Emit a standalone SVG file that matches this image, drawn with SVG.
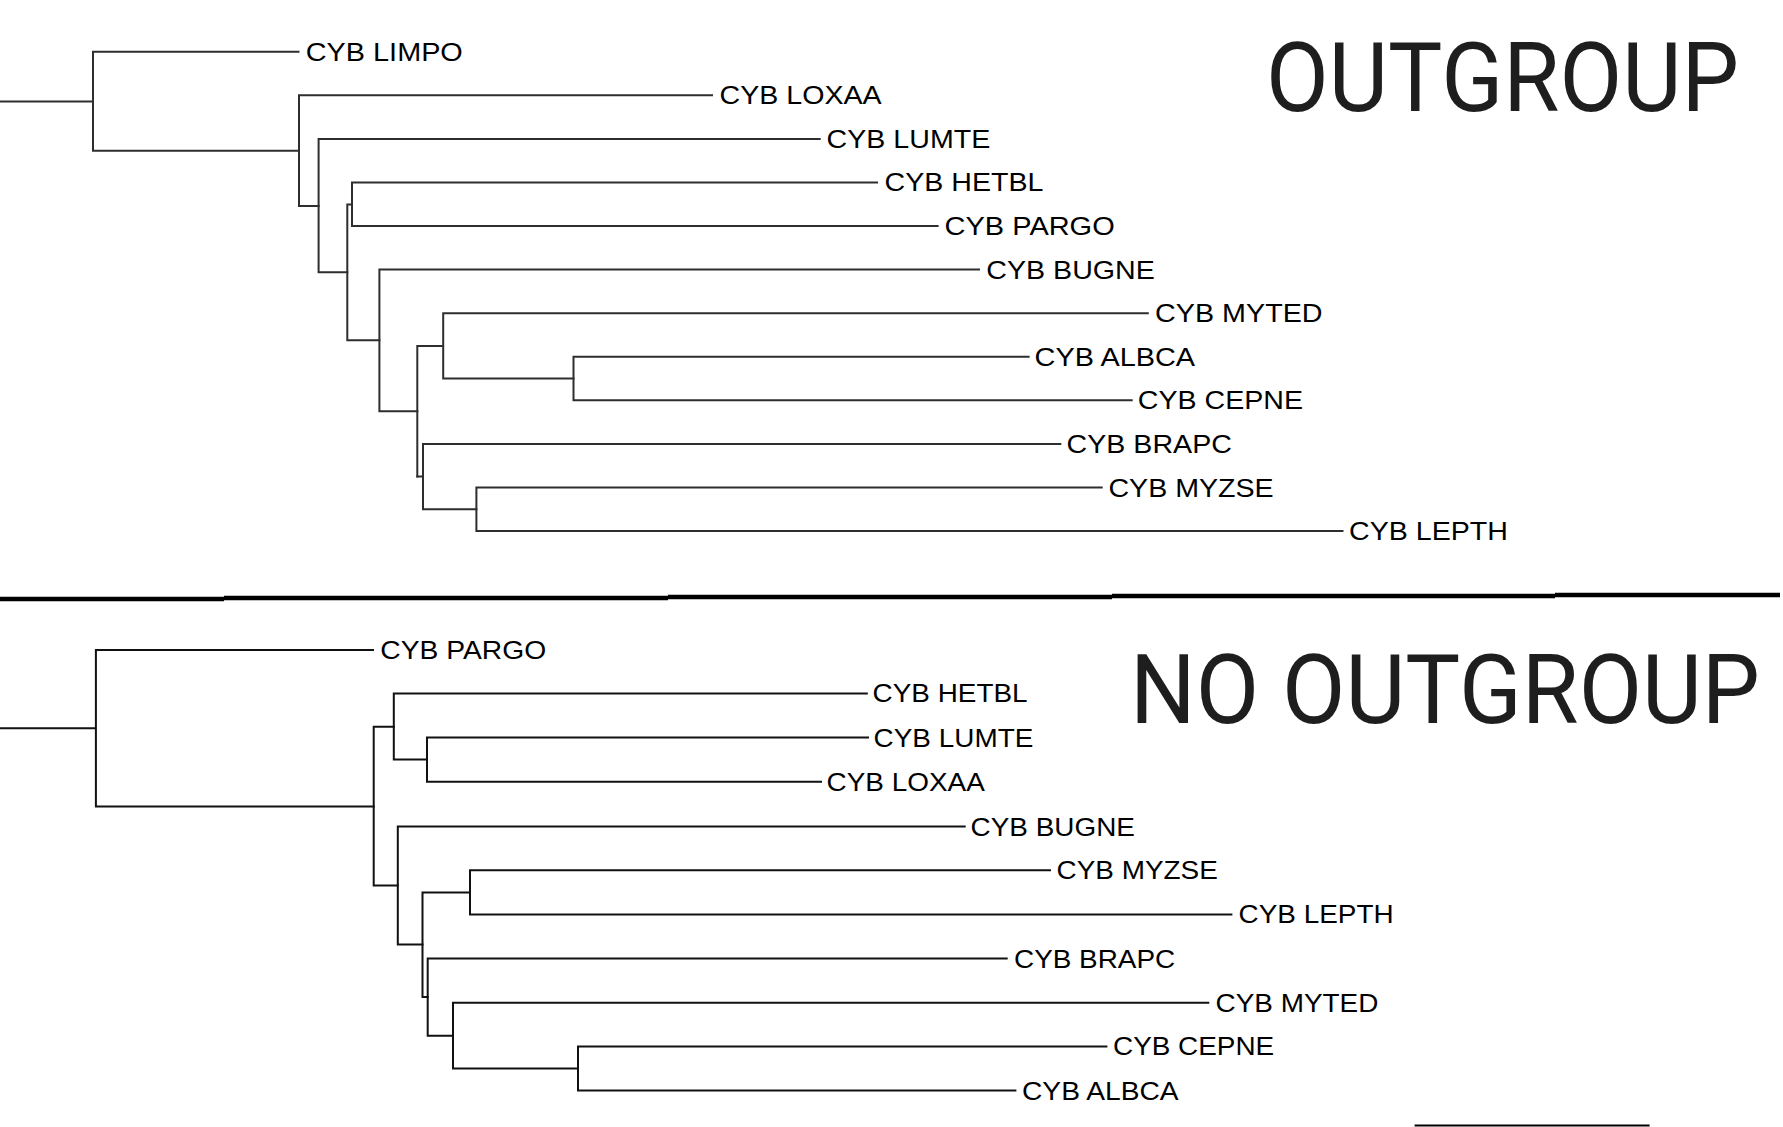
<svg xmlns="http://www.w3.org/2000/svg" width="1783" height="1127" viewBox="0 0 1783 1127">
<style>
.bg{fill:#fff}
.br{fill:none;stroke:#2e2e2e;stroke-width:2;stroke-linecap:square}
.br2{fill:none;stroke:#111;stroke-width:2;stroke-linecap:square}
.lab{font-family:"Liberation Sans",Arial,sans-serif;font-size:26px;fill:#000}
.title{font-family:Roboto,"Noto Sans",sans-serif;font-size:96px;fill:#1e1e1e}
.sep{fill:none;stroke:#000;stroke-width:4.5}
</style>
<rect class="bg" x="0" y="0" width="1783" height="1127"/>
<g id="connectors">
<g id="top-tree">
<path class="br" d="M0,101.4H93M93,51.7V150.8M93,51.7H298.5M93,150.8H299"/>
<path class="br" d="M299,95.3V205.9M299,95.3H712M299,205.9H318.6"/>
<path class="br" d="M318.6,138.9V272.3M318.6,138.9H819.7M318.6,272.3H347.3"/>
<path class="br" d="M347.3,204.4V340.3M347.3,204.4H352M352,182.4V226M352,182.4H877M352,226H937.6M347.3,340.3H379.4"/>
<path class="br" d="M379.4,269.6V411.2M379.4,269.6H979M379.4,411.2H417.3"/>
<path class="br" d="M417.3,345.9V476.6M417.3,345.9H443.2M443.2,313.2V378.6M443.2,313.2H1147.8M443.2,378.6H573.5"/>
<path class="br" d="M573.5,356.8V400.3M573.5,356.8H1028.6M573.5,400.3H1131.7"/>
<path class="br" d="M417.3,476.6H423M423,443.9V509.3M423,443.9H1060.3M423,509.3H476.4"/>
<path class="br" d="M476.4,487.5V531.1M476.4,487.5H1101.7M476.4,531.1H1342.5"/>
</g>
<g id="separator">
<path class="sep" d="M0,599H224M224,598H668M668,597H1112M1112,596H1555M1555,595H1780"/>
</g>
<g id="bottom-tree">
<path class="br2" d="M0,728.3H95.9M95.9,650V806.6M95.9,650H373M95.9,806.6H373.7"/>
<path class="br2" d="M373.7,726.8V885.5M373.7,726.8H393.8M373.7,885.5H397.8"/>
<path class="br2" d="M393.8,693.4V759.6M393.8,693.4H866.8M393.8,759.6H427"/>
<path class="br2" d="M427,737.6V781.7M427,737.6H868M427,781.7H821"/>
<path class="br2" d="M397.8,826.5V944.6M397.8,826.5H964.7M397.8,944.6H422.5"/>
<path class="br2" d="M422.5,892.4V997.1M422.5,892.4H470M422.5,997.1H427.7"/>
<path class="br2" d="M470,870.3V914.4M470,870.3H1050M470,914.4H1231.4"/>
<path class="br2" d="M427.7,958.5V1035.7M427.7,958.5H1006.7M427.7,1035.7H453"/>
<path class="br2" d="M453,1002.7V1068.5M453,1002.7H1208.3M453,1068.5H578"/>
<path class="br2" d="M578,1046.4V1090.5M578,1046.4H1106.4M578,1090.5H1015.4"/>
</g>
<path id="scale-bar" fill="none" stroke="#000" stroke-width="2" d="M1414.6,1125.5H1649.6"/>
</g>
<g id="title-top"><text class="title" x="1266" y="111" textLength="473" lengthAdjust="spacingAndGlyphs">OUTGROUP</text></g>
<g id="title-bottom"><text class="title" x="1130" y="722.7" textLength="630" lengthAdjust="spacingAndGlyphs">NO OUTGROUP</text></g>
<g id="t-LIMPO"><text class="lab" x="305.8" y="60.7" textLength="157" lengthAdjust="spacingAndGlyphs">CYB LIMPO</text></g>
<g id="t-LOXAA"><text class="lab" x="719.6" y="104.3" textLength="162.1" lengthAdjust="spacingAndGlyphs">CYB LOXAA</text></g>
<g id="t-LUMTE"><text class="lab" x="826.6" y="147.9" textLength="163.7" lengthAdjust="spacingAndGlyphs">CYB LUMTE</text></g>
<g id="t-HETBL"><text class="lab" x="884.6" y="191.4" textLength="158.9" lengthAdjust="spacingAndGlyphs">CYB HETBL</text></g>
<g id="t-PARGO"><text class="lab" x="944.6" y="235" textLength="170.1" lengthAdjust="spacingAndGlyphs">CYB PARGO</text></g>
<g id="t-BUGNE"><text class="lab" x="986.3" y="278.6" textLength="168.5" lengthAdjust="spacingAndGlyphs">CYB BUGNE</text></g>
<g id="t-MYTED"><text class="lab" x="1155.1" y="322" textLength="167.5" lengthAdjust="spacingAndGlyphs">CYB MYTED</text></g>
<g id="t-ALBCA"><text class="lab" x="1034.6" y="365.8" textLength="160.5" lengthAdjust="spacingAndGlyphs">CYB ALBCA</text></g>
<g id="t-CEPNE"><text class="lab" x="1137.8" y="409.3" textLength="165.3" lengthAdjust="spacingAndGlyphs">CYB CEPNE</text></g>
<g id="t-BRAPC"><text class="lab" x="1066.6" y="452.9" textLength="165.3" lengthAdjust="spacingAndGlyphs">CYB BRAPC</text></g>
<g id="t-MYZSE"><text class="lab" x="1108.4" y="496.5" textLength="165.3" lengthAdjust="spacingAndGlyphs">CYB MYZSE</text></g>
<g id="t-LEPTH"><text class="lab" x="1349.1" y="540.1" textLength="158.9" lengthAdjust="spacingAndGlyphs">CYB LEPTH</text></g>
<g id="b-PARGO"><text class="lab" x="380.3" y="659" textLength="165.9" lengthAdjust="spacingAndGlyphs">CYB PARGO</text></g>
<g id="b-HETBL"><text class="lab" x="872.6" y="702.4" textLength="155" lengthAdjust="spacingAndGlyphs">CYB HETBL</text></g>
<g id="b-LUMTE"><text class="lab" x="873.6" y="746.6" textLength="159.7" lengthAdjust="spacingAndGlyphs">CYB LUMTE</text></g>
<g id="b-LOXAA"><text class="lab" x="826.6" y="790.7" textLength="158.2" lengthAdjust="spacingAndGlyphs">CYB LOXAA</text></g>
<g id="b-BUGNE"><text class="lab" x="970.6" y="835.5" textLength="164.3" lengthAdjust="spacingAndGlyphs">CYB BUGNE</text></g>
<g id="b-MYZSE"><text class="lab" x="1056.6" y="879.3" textLength="161.2" lengthAdjust="spacingAndGlyphs">CYB MYZSE</text></g>
<g id="b-LEPTH"><text class="lab" x="1238.6" y="923.4" textLength="155" lengthAdjust="spacingAndGlyphs">CYB LEPTH</text></g>
<g id="b-BRAPC"><text class="lab" x="1014" y="967.5" textLength="161.2" lengthAdjust="spacingAndGlyphs">CYB BRAPC</text></g>
<g id="b-MYTED"><text class="lab" x="1215.6" y="1011.7" textLength="162.8" lengthAdjust="spacingAndGlyphs">CYB MYTED</text></g>
<g id="b-CEPNE"><text class="lab" x="1113" y="1055.4" textLength="161.2" lengthAdjust="spacingAndGlyphs">CYB CEPNE</text></g>
<g id="b-ALBCA"><text class="lab" x="1022" y="1099.5" textLength="156.6" lengthAdjust="spacingAndGlyphs">CYB ALBCA</text></g>
</svg>
